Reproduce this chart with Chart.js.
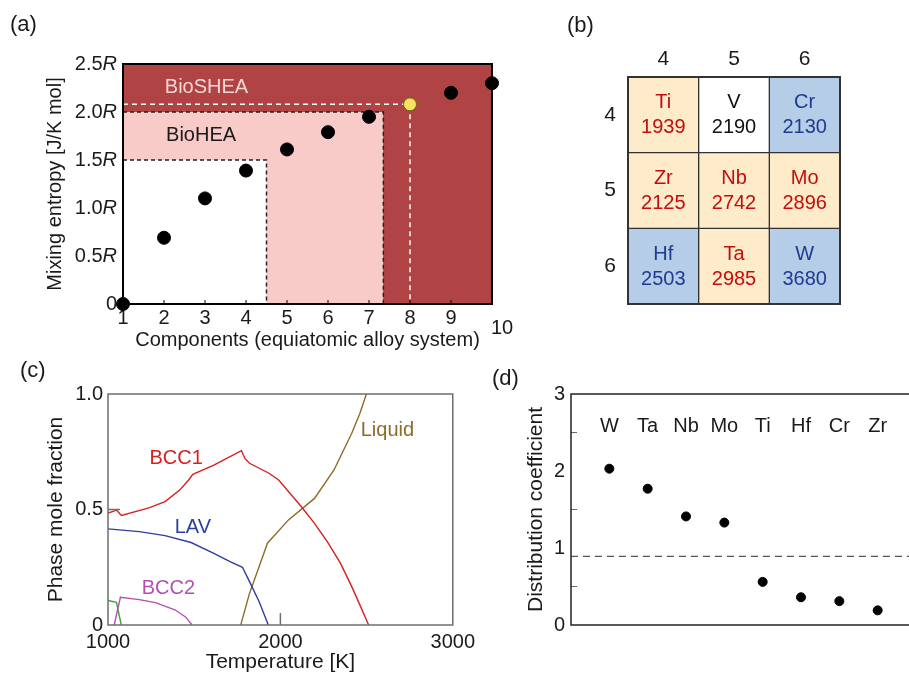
<!DOCTYPE html>
<html>
<head>
<meta charset="utf-8">
<script src="https://cdn.jsdelivr.net/npm/chart.js@4.4.1/dist/chart.umd.min.js"></script>
<style>
html, body { margin: 0; padding: 0; background: #fff; overflow: hidden; width: 909px; height: 675px; }
canvas { position: absolute; }
.lab { position: absolute; font: 22px 'Liberation Sans', Arial, sans-serif; line-height: 22px; color: #1a1a1a; }
</style>
</head>
<body>
<canvas id="ca" width="540" height="360" style="left:0;top:0"></canvas>
<canvas id="cb" width="349" height="340" style="left:560px;top:0"></canvas>
<canvas id="cc" width="480" height="315" style="left:0;top:360px"></canvas>
<canvas id="cd" width="480" height="315" style="left:480px;top:360px"></canvas>
<div class="lab" style="left:10px;top:13px">(a)</div>
<div class="lab" style="left:567px;top:14px">(b)</div>
<div class="lab" style="left:20px;top:359px">(c)</div>
<div class="lab" style="left:492px;top:367px">(d)</div>
<script>
// (a) mixing entropy vs number of components
const compCounts = [1, 2, 3, 4, 5, 6, 7, 8, 9, 10];
const mixEntropy = [0, 0.69, 1.10, 1.39, 1.61, 1.79, 1.95, 2.08, 2.20, 2.30];
const entropyTicks = [0, 0.5, 1.0, 1.5, 2.0, 2.5];
const entropyTickLabels = ['0', '0.5', '1.0', '1.5', '2.0', '2.5'];
const heaBox = [4.5, 1.5];
const bioHeaBox = [7.35, 2.0];
const bioSheaMark = [8, 2.08];

// (b) melting points
const groupNums = ['4', '5', '6'];
const periodNums = [4, 5, 6];
const elementSymbols = [['Ti', 'V', 'Cr'], ['Zr', 'Nb', 'Mo'], ['Hf', 'Ta', 'W']];
const meltingPoints = [[1939, 2190, 2130], [2125, 2742, 2896], [2503, 2985, 3680]];
const cellKinds = [['y', 'w', 'b'], ['y', 'y', 'y'], ['b', 'y', 'b']];

// (c) phase fractions
const bcc1T = [1000, 1050, 1078, 1237, 1331, 1416, 1470, 1492, 1614, 1774, 1795, 1821, 1934, 1990, 2122, 2198, 2273, 2349, 2414, 2461, 2512];
const bcc1F = [0.485, 0.497, 0.474, 0.507, 0.534, 0.584, 0.63, 0.652, 0.692, 0.755, 0.72, 0.70, 0.657, 0.628, 0.512, 0.44, 0.36, 0.267, 0.166, 0.087, 0];
const lavT = [1000, 1181, 1331, 1482, 1614, 1708, 1780, 1821, 1877, 1930];
const lavF = [0.416, 0.404, 0.387, 0.357, 0.31, 0.274, 0.25, 0.188, 0.101, 0];
const liquidT = [1770, 1821, 1877, 1925, 2047, 2198, 2311, 2414, 2461, 2499];
const liquidF = [0, 0.137, 0.253, 0.354, 0.455, 0.548, 0.671, 0.83, 0.916, 1.0];
const bcc2T = [1036, 1072, 1181, 1275, 1388, 1450, 1488];
const bcc2F = [0, 0.12, 0.11, 0.097, 0.066, 0.035, 0];
const greenT = [1000, 1049, 1077];
const greenF = [0.106, 0.098, 0];
const tempTicks = [1000, 2000, 3000];
const phaseTicks = [0, 0.5, 1.0];
const phaseTickLabels = ['0', '0.5', '1.0'];

// (d) distribution coefficients
const solutes = ['W', 'Ta', 'Nb', 'Mo', 'Ti', 'Hf', 'Cr', 'Zr'];
const distCoef = [2.03, 1.77, 1.41, 1.33, 0.56, 0.36, 0.31, 0.19];
const distTicks = [0, 1, 2, 3];
const refLevel = 0.89;

const FONT = "'Liberation Sans', Arial, sans-serif";
Chart.defaults.font.family = FONT;
Chart.defaults.font.size = 20;
Chart.defaults.color = '#1a1a1a';
Chart.defaults.animation = false;
Chart.defaults.plugins.legend.display = false;
Chart.defaults.plugins.tooltip.enabled = false;

const noGrid = { display: false, drawTicks: false };
const noBorder = { display: false };
const pts = (xs, ys) => xs.map((x, i) => ({ x: x, y: ys[i] }));
const boxLine = b => [{ x: 1, y: b[1] }, { x: b[0], y: b[1] }, { x: b[0], y: 0 }];

// ---------- (a)
const panelA = {
  id: 'panelA',
  afterDatasetsDraw(chart) {
    const { ctx, chartArea: a, scales: { x, y } } = chart;
    ctx.save();
    ctx.strokeStyle = '#000';
    ctx.lineWidth = 2;
    ctx.strokeRect(a.left, a.top, a.right - a.left, a.bottom - a.top);
    ctx.lineWidth = 1;
    compCounts.slice(1, -1).forEach(n => {
      const px = x.getPixelForValue(n);
      ctx.beginPath(); ctx.moveTo(px, a.bottom); ctx.lineTo(px, a.bottom - 4); ctx.stroke();
    });
    ctx.font = '20px ' + FONT;
    ctx.textBaseline = 'middle';
    ctx.fillStyle = '#f4d6d4';
    ctx.fillText('BioSHEA', x.getPixelForValue(2.02), y.getPixelForValue(2.26));
    ctx.fillStyle = '#1a1a1a';
    ctx.fillText('BioHEA', x.getPixelForValue(2.05), y.getPixelForValue(1.76));
    ctx.restore();
  },
  afterDraw(chart) {
    const { ctx, scales: { x, y } } = chart;
    ctx.save();
    ctx.fillStyle = '#1a1a1a';
    ctx.textBaseline = 'middle';
    const right = y.right - 6;
    entropyTicks.forEach((v, i) => {
      const py = y.getPixelForValue(v);
      if (v === 0) {
        ctx.font = '20px ' + FONT; ctx.textAlign = 'right';
        ctx.fillText(entropyTickLabels[i], right, py);
        return;
      }
      ctx.font = 'italic 20px ' + FONT;
      const wR = ctx.measureText('R').width;
      ctx.textAlign = 'left';
      ctx.fillText('R', right - wR, py);
      ctx.font = '20px ' + FONT; ctx.textAlign = 'right';
      ctx.fillText(entropyTickLabels[i], right - wR, py);
    });
    ctx.font = '20px ' + FONT; ctx.textAlign = 'center';
    const last = compCounts[compCounts.length - 1];
    ctx.fillText(String(last), x.getPixelForValue(last) + 10, x.top + 24);
    ctx.restore();
  }
};

new Chart(document.getElementById('ca'), {
  type: 'scatter',
  data: {
    datasets: [
      { data: pts(compCounts, mixEntropy), pointRadius: 6.5,
        pointBackgroundColor: compCounts.map(n => n === bioSheaMark[0] ? '#f6e163' : '#000'),
        pointBorderColor: compCounts.map(n => n === bioSheaMark[0] ? '#6f6010' : '#000'),
        pointBorderWidth: 1, clip: false, order: 0 },
      { data: [{ x: 1, y: bioSheaMark[1] }, { x: bioSheaMark[0], y: bioSheaMark[1] }, { x: bioSheaMark[0], y: 0 }],
        showLine: true, pointRadius: 0, borderColor: '#fff', borderWidth: 1.5, borderDash: [5, 4], order: 1 },
      { data: boxLine(heaBox), showLine: true, pointRadius: 0, borderColor: '#222', borderWidth: 1.5,
        borderDash: [4, 3], fill: 'origin', backgroundColor: '#ffffff', order: 2 },
      { data: boxLine(bioHeaBox), showLine: true, pointRadius: 0, borderColor: '#222', borderWidth: 1.5,
        borderDash: [4, 3], fill: 'origin', backgroundColor: '#f8cbc8', order: 3 },
      { data: [{ x: 1, y: 2.5 }, { x: 10, y: 2.5 }], showLine: true, pointRadius: 0, borderWidth: 0,
        fill: 'origin', backgroundColor: '#b04343', order: 4 }
    ]
  },
  options: {
    responsive: false,
    layout: { padding: { left: 0, top: 64, right: 48, bottom: 0 } },
    scales: {
      x: { type: 'linear', min: 1, max: 10,
        afterFit: s => { s.height = 56; },
        afterBuildTicks: s => { s.ticks = compCounts.map(v => ({ value: v })); },
        grid: noGrid, border: noBorder,
        ticks: { padding: 2, maxRotation: 0, callback: v => v === 10 ? '' : String(v) },
        title: { display: true, text: 'Components (equiatomic alloy system)', padding: { top: 0, bottom: 8 } } },
      y: { min: 0, max: 2.5,
        afterFit: s => { s.width = 123; },
        afterBuildTicks: s => { s.ticks = entropyTicks.map(v => ({ value: v })); },
        grid: noGrid, border: noBorder,
        ticks: { callback: () => '' },
        title: { display: true, text: 'Mixing entropy [J/K mol]', padding: { top: 43, bottom: 0 } } }
    }
  },
  plugins: [panelA]
});

// ---------- (b)
const cellFill = { y: '#fdebc9', w: '#ffffff', b: '#b5cde6' };
const cellText = { y: '#c40d0d', w: '#111111', b: '#1f3a93' };
const panelB = {
  id: 'panelB',
  afterDatasetsDraw(chart) {
    const { ctx, chartArea: a } = chart;
    ctx.save();
    ctx.strokeStyle = '#333';
    ctx.lineWidth = 2;
    ctx.strokeRect(a.left, a.top, a.right - a.left, a.bottom - a.top);
    ctx.font = '20px ' + FONT;
    ctx.textAlign = 'center';
    ctx.textBaseline = 'middle';
    periodNums.forEach((p, r) => {
      chart.getDatasetMeta(r).data.forEach((bar, c) => {
        const cy = (bar.y + bar.base) / 2;
        ctx.fillStyle = cellText[cellKinds[r][c]];
        ctx.fillText(elementSymbols[r][c], bar.x, cy - 12);
        ctx.fillText(String(meltingPoints[r][c]), bar.x, cy + 13);
      });
    });
    ctx.restore();
  }
};

new Chart(document.getElementById('cb'), {
  type: 'bar',
  data: {
    labels: groupNums,
    datasets: periodNums.map((p, r) => ({
      data: groupNums.map(() => [p - 0.5, p + 0.5]),
      backgroundColor: cellKinds[r].map(k => cellFill[k]),
      borderColor: '#333', borderWidth: 1, borderSkipped: false,
      grouped: false, barPercentage: 1, categoryPercentage: 1
    }))
  },
  options: {
    responsive: false,
    layout: { padding: { left: 0, top: 0, right: 69, bottom: 36 } },
    scales: {
      x: { position: 'top', afterFit: s => { s.height = 77; },
        grid: noGrid, border: noBorder, ticks: { padding: 5, font: { size: 21 } } },
      y: { min: 3.5, max: 6.5, reverse: true,
        afterFit: s => { s.width = 68; },
        afterBuildTicks: s => { s.ticks = periodNums.map(v => ({ value: v })); },
        grid: noGrid, border: noBorder, ticks: { padding: 12, font: { size: 21 } } }
    }
  },
  plugins: [panelB]
});

// ---------- (c)
const phaseLabels = [
  { text: 'BCC1', x: 1395, y: 0.719, color: '#d81e1e' },
  { text: 'LAV', x: 1492, y: 0.424, color: '#2a3fa0' },
  { text: 'BCC2', x: 1350, y: 0.156, color: '#b44fb4' },
  { text: 'Liquid', x: 2621, y: 0.84, color: '#8d6b28' }
];
const panelC = {
  id: 'panelC',
  afterDatasetsDraw(chart) {
    const { ctx, chartArea: a, scales: { x, y } } = chart;
    ctx.save();
    ctx.strokeStyle = '#6e6e6e';
    ctx.lineWidth = 1.5;
    ctx.strokeRect(a.left, a.top, a.right - a.left, a.bottom - a.top);
    const py = y.getPixelForValue(0.5);
    ctx.beginPath(); ctx.moveTo(a.left, py); ctx.lineTo(a.left + 12, py); ctx.stroke();
    const px = x.getPixelForValue(2000);
    ctx.beginPath(); ctx.moveTo(px, a.bottom); ctx.lineTo(px, a.bottom - 12); ctx.stroke();
    ctx.font = '20px ' + FONT;
    ctx.textAlign = 'center';
    ctx.textBaseline = 'middle';
    phaseLabels.forEach(l => {
      ctx.fillStyle = l.color;
      ctx.fillText(l.text, x.getPixelForValue(l.x), y.getPixelForValue(l.y));
    });
    ctx.restore();
  }
};
const curve = (xs, ys, color) => ({ data: pts(xs, ys), showLine: true, pointRadius: 0,
  borderColor: color, borderWidth: 1.4, tension: 0 });

new Chart(document.getElementById('cc'), {
  type: 'scatter',
  data: {
    datasets: [
      curve(bcc1T, bcc1F, '#d81e1e'),
      curve(lavT, lavF, '#2a3fa0'),
      curve(liquidT, liquidF, '#8d6b28'),
      curve(bcc2T, bcc2F, '#b44fb4'),
      curve(greenT, greenF, '#3aa53a')
    ]
  },
  options: {
    responsive: false,
    layout: { padding: { left: 0, top: 34, right: 18, bottom: 0 } },
    scales: {
      x: { type: 'linear', min: 1000, max: 3000,
        afterFit: s => { s.height = 50; },
        afterBuildTicks: s => { s.ticks = tempTicks.map(v => ({ value: v })); },
        grid: noGrid, border: noBorder, ticks: { padding: 5, maxRotation: 0, callback: v => String(v) },
        title: { display: true, text: 'Temperature [K]', padding: { top: 0, bottom: 0 }, font: { size: 21 } } },
      y: { min: 0, max: 1,
        afterFit: s => { s.width = 108; },
        afterBuildTicks: s => { s.ticks = phaseTicks.map(v => ({ value: v })); },
        grid: noGrid, border: noBorder,
        ticks: { padding: 5, callback: v => phaseTickLabels[phaseTicks.indexOf(v)] },
        title: { display: true, text: 'Phase mole fraction', padding: { top: 44, bottom: 0 }, font: { size: 21 } } }
    }
  },
  plugins: [panelC]
});

// ---------- (d)
const panelD = {
  id: 'panelD',
  afterDatasetsDraw(chart) {
    const { ctx, chartArea: a, scales: { x, y } } = chart;
    ctx.save();
    ctx.strokeStyle = '#6a6a6a';
    ctx.lineWidth = 1;
    [0.5, 1.5, 2.5].forEach(v => {
      const py = y.getPixelForValue(v);
      ctx.beginPath(); ctx.moveTo(a.left, py); ctx.lineTo(a.left + 6, py); ctx.stroke();
    });
    ctx.strokeStyle = '#222';
    ctx.lineWidth = 1.5;
    ctx.strokeRect(a.left, a.top, a.right - a.left, a.bottom - a.top);
    ctx.font = '20px ' + FONT;
    ctx.fillStyle = '#1a1a1a';
    ctx.textAlign = 'center';
    ctx.textBaseline = 'middle';
    solutes.forEach((s, i) => ctx.fillText(s, x.getPixelForValue(i + 1), y.getPixelForValue(2.58)));
    ctx.restore();
  }
};

new Chart(document.getElementById('cd'), {
  type: 'scatter',
  data: {
    datasets: [
      { data: solutes.map((s, i) => ({ x: i + 1, y: distCoef[i] })), pointRadius: 4.5,
        pointBackgroundColor: '#000', pointBorderColor: '#000', order: 0 },
      { data: [{ x: 0, y: refLevel }, { x: 9, y: refLevel }], showLine: true, pointRadius: 0,
        borderColor: '#555', borderWidth: 1.2, borderDash: [7, 5], order: 1 }
    ]
  },
  options: {
    responsive: false,
    layout: { padding: { left: 0, top: 34, right: 44, bottom: 0 } },
    scales: {
      x: { type: 'linear', min: 0, max: 9,
        afterFit: s => { s.height = 50; },
        grid: noGrid, border: noBorder, ticks: { display: false } },
      y: { min: 0, max: 3,
        afterFit: s => { s.width = 91; },
        afterBuildTicks: s => { s.ticks = distTicks.map(v => ({ value: v })); },
        grid: noGrid, border: noBorder, ticks: { padding: 6 },
        title: { display: true, text: 'Distribution coefficient', padding: { top: 44, bottom: 0 }, font: { size: 21 } } }
    }
  },
  plugins: [panelD]
});
</script>
</body>
</html>
